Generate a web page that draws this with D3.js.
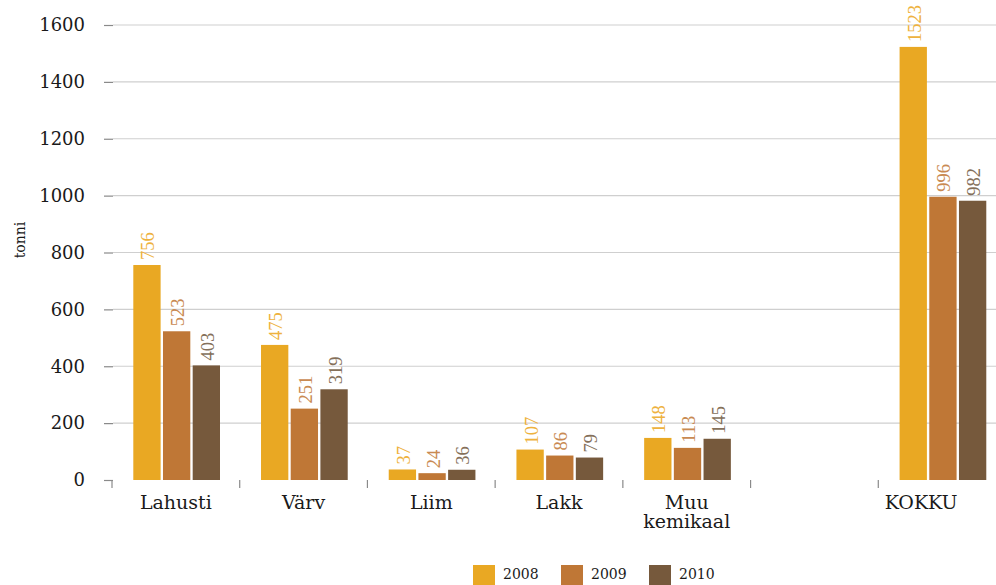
<!DOCTYPE html>
<html>
<head>
<meta charset="utf-8">
<script src="https://cdn.jsdelivr.net/npm/d3@7"></script>
<style>
  body { margin: 0; background: #fff; }
  svg { display: block; }
  text { font-family: "DejaVu Serif", serif; }
</style>
</head>
<body>
<svg id="chart" width="996" height="585"></svg>
<script>
// ---- data ----
const categories = ["Lahusti", "Värv", "Liim", "Lakk", "Muu kemikaal", "", "KOKKU"];
const years = ["2008", "2009", "2010"];
const values2008 = [756, 475, 37, 107, 148, null, 1523];
const values2009 = [523, 251, 24, 86, 113, null, 996];
const values2010 = [403, 319, 36, 79, 145, null, 982];
const yTicks = [0, 200, 400, 600, 800, 1000, 1200, 1400, 1600];

const series = [values2008, values2009, values2010];
const barColors = ["#e9a823", "#bf7736", "#76593c"];
const labelColors = ["#eeb23e", "#c98a52", "#85705a"];

// ---- layout ----
const svg = d3.select("#chart");
const x0 = d3.scaleBand().domain(categories).range([112, 1006]);
const x1 = d3.scaleBand().domain(years).range([21.3, 108]).paddingInner(0.08);
const y = d3.scaleLinear().domain([0, 1600]).range([480, 25]);

// grid lines
svg.append("g")
  .selectAll("line")
  .data(yTicks.filter(d => d > 0))
  .enter()
  .append("line")
  .attr("x1", 113).attr("x2", 996)
  .attr("y1", d => y(d)).attr("y2", d => y(d))
  .attr("stroke", "#cfcfcf")
  .attr("stroke-width", 1.2);

// y axis
const yAxis = svg.append("g")
  .attr("transform", "translate(113,0)")
  .call(d3.axisLeft(y).tickValues(yTicks).tickFormat(d3.format("d")).tickSize(9).tickPadding(19));
yAxis.select(".domain").remove();
yAxis.selectAll(".tick line").attr("stroke", "#8a8a8a").attr("stroke-width", 1.2);
yAxis.selectAll(".tick text")
  .style("font-family", "DejaVu Serif, serif")
  .style("font-size", "18px")
  .style("fill", "#1a1a1a");

// x axis ticks at band boundaries
const bounds = categories.map(c => x0(c)).concat([x0.range()[1]]);
svg.append("g")
  .selectAll("line")
  .data(bounds)
  .enter()
  .append("line")
  .attr("x1", d => d).attr("x2", d => d)
  .attr("y1", 480).attr("y2", 488)
  .attr("stroke", "#8a8a8a")
  .attr("stroke-width", 1.2);

// x labels (one text per word line)
const labelLines = [];
categories.forEach(c => {
  if (c === "") return;
  c.split(" ").forEach((w, i) => labelLines.push({ c, w, i }));
});
svg.append("g")
  .selectAll("text")
  .data(labelLines)
  .enter()
  .append("text")
  .attr("x", d => x0(d.c) + x0.bandwidth() / 2 + (d.c === "KOKKU" ? -21 : 0))
  .attr("y", d => 509 + d.i * 19)
  .attr("text-anchor", "middle")
  .style("font-size", "19px")
  .style("fill", "#1a1a1a")
  .text(d => d.w);

// bars
const groups = svg.append("g")
  .selectAll("g")
  .data(categories.map((c, i) => ({ c, vals: series.map(s => s[i]) })).filter(d => d.c !== ""))
  .enter()
  .append("g")
  .attr("transform", d => `translate(${x0(d.c)},0)`);

groups.selectAll("rect")
  .data(d => d.vals.map((v, j) => ({ v, j })))
  .enter()
  .append("rect")
  .attr("x", d => x1(years[d.j]))
  .attr("width", x1.bandwidth())
  .attr("y", d => y(d.v))
  .attr("height", d => y(0) - y(d.v))
  .attr("fill", d => barColors[d.j]);

// value labels
groups.selectAll("text")
  .data(d => d.vals.map((v, j) => ({ v, j })))
  .enter()
  .append("text")
  .attr("transform", d => `translate(${x1(years[d.j]) + x1.bandwidth() / 2 + 1},${y(d.v) - 5}) rotate(-90)`)
  .attr("dy", "0.35em")
  .style("font-family", "Liberation Serif, serif")
  .style("font-size", "18.5px")
  .style("fill", d => labelColors[d.j])
  .text(d => d.v);

// y axis title
svg.append("text")
  .attr("transform", "translate(20,240) rotate(-90)")
  .attr("text-anchor", "middle")
  .attr("dy", "0.35em")
  .style("font-size", "14px")
  .style("fill", "#1a1a1a")
  .text("tonni");

// legend
const legendX = [473, 561, 649];
const legend = svg.append("g")
  .selectAll("g")
  .data(years)
  .enter()
  .append("g")
  .attr("transform", (d, i) => `translate(${legendX[i]},565)`);
legend.append("rect")
  .attr("width", 22).attr("height", 22)
  .attr("fill", (d, i) => barColors[i]);
legend.append("text")
  .attr("x", 30).attr("y", 14)
  .style("font-size", "14px")
  .style("fill", "#1a1a1a")
  .text(d => d);
</script>
</body>
</html>
